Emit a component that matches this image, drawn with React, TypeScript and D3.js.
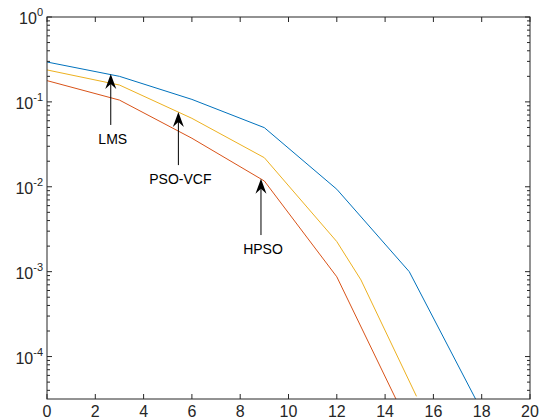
import React from 'react'
import * as d3 from 'd3'

// SNR values and error rates for each method
const lmsX = [0, 3, 6, 9, 12, 15, 18]
const lmsY = [0.295, 0.2, 0.107, 0.0497, 0.00935, 0.001, 2.3e-5]
const psoX = [0, 3, 6, 9, 12, 13, 15.3]
const psoY = [0.238, 0.158, 0.064, 0.022, 0.00226, 8e-4, 3.4e-5]
const hpsoX = [0, 3, 6, 9, 12, 15]
const hpsoY = [0.178, 0.105, 0.0373, 0.0117, 8.7e-4, 1.5e-5]

const xTicks = [0, 2, 4, 6, 8, 10, 12, 14, 16, 18, 20]
const yExps = [0, -1, -2, -3, -4]

// annotation arrows: label, x, tip value, tail value
const annLabels = ['LMS', 'PSO-VCF', 'HPSO']
const annX = [2.64, 5.44, 8.86]
const annTip = [0.213, 0.076, 0.0124]
const annTail = [0.0535, 0.018, 0.0027]

const W = 544
const H = 419
const m = { left: 47, right: 530, top: 17, bottom: 399 }
const axisColor = '#262626'
const font = '"Liberation Sans", Arial, sans-serif'

const App = () => {
  const x = d3.scaleLinear().domain([0, 20]).range([m.left, m.right])
  const y = d3.scaleLog().domain([Math.pow(10, -4.5), 1]).range([m.bottom, m.top])

  const series = [
    { xs: lmsX, ys: lmsY, color: '#0072BD' },
    { xs: psoX, ys: psoY, color: '#EDB120' },
    { xs: hpsoX, ys: hpsoY, color: '#D95319' },
  ]

  const line = d3.line<[number, number]>()
    .x(d => x(d[0]))
    .y(d => y(d[1]))

  // minor ticks 2..9 per decade inside the domain
  const minor: number[] = []
  for (let e = -5; e < 0; e++) {
    for (let k = 2; k <= 9; k++) {
      const v = k * Math.pow(10, e)
      if (v >= y.domain()[0] && v <= 1) minor.push(v)
    }
  }

  const headPath = 'M0,0 L-5.5,15 L0,10 L5.5,15 Z'

  return (
    <svg width={W} height={H} style={{ position: 'absolute', left: 0, top: 0, background: '#fff' }}
      fontFamily={font}>
      <defs>
        <clipPath id="plot-clip">
          <rect x={m.left} y={m.top} width={m.right - m.left} height={m.bottom - m.top} />
        </clipPath>
      </defs>
      <rect x={0} y={0} width={W} height={H} fill="#fff" />

      <g clipPath="url(#plot-clip)">
        {series.map((s, i) => (
          <path key={i} d={line(s.xs.map((v, j) => [v, s.ys[j]] as [number, number])) || ''}
            fill="none" stroke={s.color} strokeWidth={1} />
        ))}
      </g>

      {/* box */}
      <rect x={m.left} y={m.top} width={m.right - m.left} height={m.bottom - m.top}
        fill="none" stroke={axisColor} strokeWidth={1} />

      {/* x ticks top & bottom */}
      {xTicks.map(t => (
        <g key={'x' + t}>
          <line x1={x(t)} x2={x(t)} y1={m.bottom} y2={m.bottom - 5} stroke={axisColor} />
          <line x1={x(t)} x2={x(t)} y1={m.top} y2={m.top + 5} stroke={axisColor} />
          <text x={x(t)} y={417} textAnchor="middle" fontSize={16} fill={axisColor}>{t}</text>
        </g>
      ))}

      {/* y major ticks */}
      {yExps.map(e => (
        <g key={'y' + e}>
          <line x1={m.left} x2={m.left + 5} y1={y(Math.pow(10, e))} y2={y(Math.pow(10, e))} stroke={axisColor} />
          <line x1={m.right} x2={m.right - 5} y1={y(Math.pow(10, e))} y2={y(Math.pow(10, e))} stroke={axisColor} />
          <text x={43} y={y(Math.pow(10, e)) + 7} textAnchor="end" fontSize={16} fill={axisColor}>
            10<tspan dy={-8} fontSize={11}>{e}</tspan>
          </text>
        </g>
      ))}

      {/* y minor ticks */}
      {minor.map((v, i) => (
        <g key={'m' + i}>
          <line x1={m.left} x2={m.left + 3} y1={y(v)} y2={y(v)} stroke={axisColor} />
          <line x1={m.right} x2={m.right - 3} y1={y(v)} y2={y(v)} stroke={axisColor} />
        </g>
      ))}

      {/* annotations */}
      {annLabels.map((lab, i) => {
        const px = x(annX[i])
        const tipY = y(annTip[i])
        const tailY = y(annTail[i])
        return (
          <g key={lab}>
            <line x1={px} x2={px} y1={tailY} y2={tipY + 10} stroke="#000" strokeWidth={1} />
            <path d={headPath} transform={`translate(${px},${tipY})`} fill="#000" />
            <text x={px + 2} y={tailY + 19} textAnchor="middle" fontSize={14} fill="#000">{lab}</text>
          </g>
        )
      })}
    </svg>
  )
}

export default App
